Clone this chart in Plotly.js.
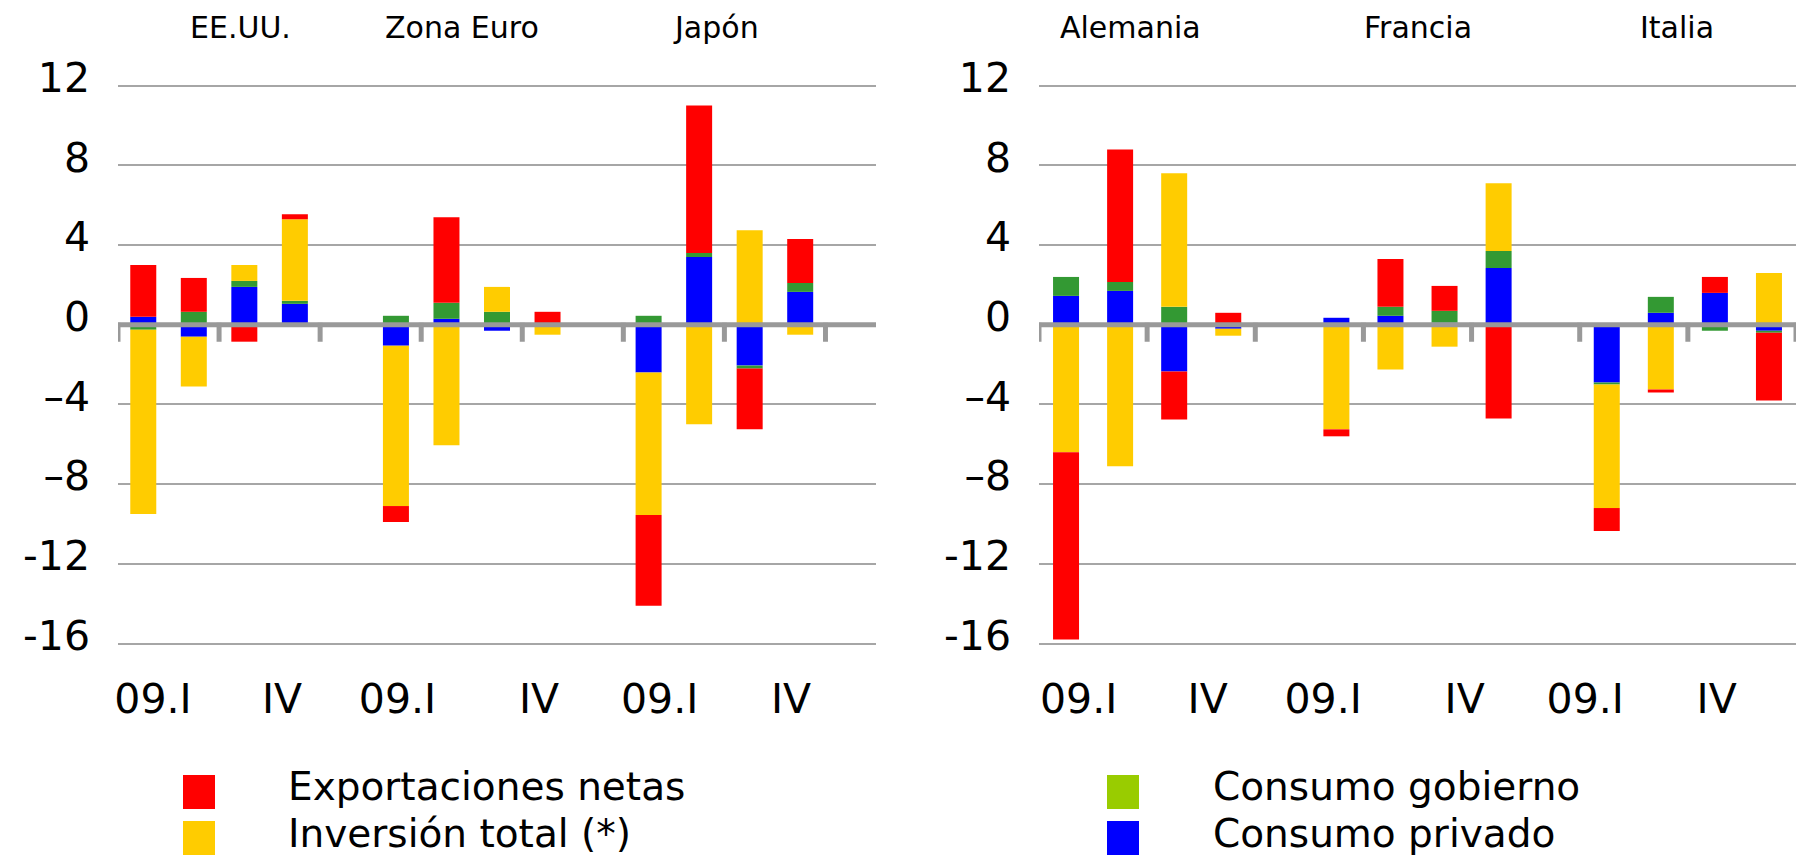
<!DOCTYPE html>
<html>
<head>
<meta charset="utf-8">
<script src="https://cdn.plot.ly/plotly-3.0.1.min.js"></script>
<style>html,body{margin:0;padding:0;background:#fff;}#chart{width:1796px;height:857px;}</style>
</head>
<body>
<div id="chart"></div>
<script>
// ---------------- DATA ----------------
const quarters = ['09.I', 'II', 'III', 'IV'];
const leftCountries = ['EE.UU.', 'Zona Euro', 'Japón'];
const rightCountries = ['Alemania', 'Francia', 'Italia'];
const yTickVals = [-16, -12, -8, -4, 0, 4, 8, 12];
const yTickText = ['-16', '-12', '–8', '–4', '0', '4', '8', '12'];

// contributions (pp), per country, quarters 09.I..IV
const consumoPrivado = {
  'EE.UU.':   [0.4, -0.6, 1.9, 1.05],
  'Zona Euro':[-1.05, 0.3, -0.3, 0],
  'Japón':    [-2.4, 3.4, -2.05, 1.65],
  'Alemania': [1.45, 1.7, -2.35, -0.2],
  'Francia':  [0.35, 0.45, 0.1, 2.85],
  'Italia':   [-2.9, 0.6, 1.6, -0.3]
};
const consumoGobierno = {
  'EE.UU.':   [-0.25, 0.65, 0.3, 0.15],
  'Zona Euro':[0.45, 0.8, 0.65, 0],
  'Japón':    [0.45, 0.2, -0.15, 0.45],
  'Alemania': [0.95, 0.45, 0.9, 0],
  'Francia':  [0, 0.45, 0.6, 0.85],
  'Italia':   [-0.1, 0.8, -0.3, -0.1]
};
const inversionTotal = {
  'EE.UU.':   [-9.25, -2.5, 0.8, 4.1],
  'Zona Euro':[-8.05, -6.05, 1.25, -0.5],
  'Japón':    [-7.15, -5.0, 4.75, -0.5],
  'Alemania': [-6.4, -7.1, 6.7, -0.35],
  'Francia':  [-5.25, -2.25, -1.1, 3.4],
  'Italia':   [-6.2, -3.25, 0, 2.6]
};
const exportacionesNetas = {
  'EE.UU.':   [2.6, 1.7, -0.85, 0.25],
  'Zona Euro':[-0.8, 4.3, 0, 0.65],
  'Japón':    [-4.55, 7.4, -3.05, 2.2],
  'Alemania': [-9.4, 6.65, -2.4, 0.6],
  'Francia':  [-0.35, 2.4, 1.25, -4.7],
  'Italia':   [-1.15, -0.15, 0.8, -3.4]
};

// ---------------- STYLE / LAYOUT ----------------
const W = 1796, H = 857;
const FONT = 'DejaVu Sans, Verdana, sans-serif';
const series = [
  {name: 'Consumo privado',     data: consumoPrivado,     color: '#0000FF', legendColor: '#0000FF'},
  {name: 'Consumo gobierno',    data: consumoGobierno,    color: '#339933', legendColor: '#99CC00'},
  {name: 'Inversión total (*)', data: inversionTotal,     color: '#FFCC00', legendColor: '#FFCC00'},
  {name: 'Exportaciones netas', data: exportacionesNetas, color: '#FF0000', legendColor: '#FF0000'}
];

// pixel anchors
const px12 = 85.7, pxM16 = 643.5;
const ppu = (pxM16 - px12) / 28;
const yMin = -16.3, yMax = 12.3;
const yTopPx = px12 - (yMax - 12) * ppu;
const yBotPx = pxM16 + (-16 - yMin) * ppu;
const yDom = [1 - yBotPx / H, 1 - yTopPx / H];

const groupStep = quarters.length + 1;
const nCatsLeft = leftCountries.length * groupStep;
const left = {x0: 118, x1: 876, range: [-0.5, nCatsLeft - 0.5]};
const right = {x0: 1039, x1: W, range: [-0.5, nCatsLeft - 1.5]};
left.cat = (left.x1 - left.x0) / (left.range[1] - left.range[0]);
right.cat = (right.x1 - right.x0) / (right.range[1] - right.range[0]);
const barPx = 26;

const labelPxLeft = [153, 282, 397.5, 539, 659.6, 791];
const labelPxRight = labelPxLeft.map(p => p + 925.6);
const toData = (panel, p) => (p - panel.x0) / panel.cat - 0.5;
const labelText = countries => countries.flatMap(() => [quarters[0], quarters[quarters.length - 1]]);

const boundaryVals = [];
for (let v = -0.5; v <= nCatsLeft - 1.5 + 1e-9; v += 2) boundaryVals.push(v);

function buildTraces(countries, xa, ya, panel) {
  return series.map(s => {
    const x = [], y = [], text = [];
    countries.forEach((c, g) => {
      s.data[c].forEach((v, q) => {
        x.push(g * groupStep + q);
        y.push(v);
        text.push(c + ' ' + quarters[q]);
      });
    });
    return {
      type: 'bar', x: x, y: y, text: text, textposition: 'none',
      name: s.name, marker: {color: s.color, line: {width: 0}},
      width: barPx / panel.cat, xaxis: xa, yaxis: ya, showlegend: false,
      hovertemplate: '%{text}: %{y}<extra>' + s.name + '</extra>'
    };
  });
}

const traces = [
  ...buildTraces(leftCountries, 'x', 'y', left),
  ...buildTraces(rightCountries, 'x2', 'y2', right)
];

const tickFont = {family: FONT, size: 41, color: '#000'};
function yAxis(anchor) {
  return {
    domain: yDom, range: [yMin, yMax], anchor: anchor,
    tickvals: yTickVals, ticktext: yTickText, ticks: '',
    showgrid: true, gridcolor: '#a6a6a6', gridwidth: 2,
    zeroline: false, showline: false,
    tickfont: tickFont, ticklabelstandoff: 27, ticklabelshift: -8, fixedrange: true
  };
}
function xLabelAxis(panel, anchor, labelPx, countries) {
  return {
    domain: [panel.x0 / W, panel.x1 / W], range: panel.range, anchor: anchor,
    tickmode: 'array', tickvals: labelPx.map(p => toData(panel, p)), ticktext: labelText(countries),
    ticks: '', showgrid: false, zeroline: false, showline: false,
    tickfont: tickFont, ticklabelstandoff: 22, fixedrange: true
  };
}

const shapes = [];
// zero line + boundary tick marks (axis decoration) for each panel
[['x', 'y'], ['x2', 'y2']].forEach(([xa, ya]) => {
  boundaryVals.forEach(v => {
    shapes.push({
      type: 'line', xref: xa, yref: ya, ysizemode: 'pixel', yanchor: 0,
      x0: v, x1: v, y0: 2, y1: -17,
      line: {color: '#999999', width: 5}, layer: 'above'
    });
  });
  shapes.push({
    type: 'line', xref: xa + ' domain', yref: ya, x0: 0, x1: 1, y0: 0, y1: 0,
    line: {color: '#999999', width: 5}, layer: 'above'
  });
});

const annotations = [];
const titlePx = {'EE.UU.': 240.7, 'Zona Euro': 462, 'Japón': 716, 'Alemania': 1130, 'Francia': 1418, 'Italia': 1677};
leftCountries.concat(rightCountries).forEach(c => {
  annotations.push({
    xref: 'paper', yref: 'paper', x: titlePx[c] / W, y: 1 - 27 / H,
    xanchor: 'center', yanchor: 'middle', showarrow: false, text: c,
    font: {family: FONT, size: 30, color: '#000'}
  });
});

// custom legend (two columns of two entries)
const legendCols = [
  {sqX: 183, textX: 287, items: ['Exportaciones netas', 'Inversión total (*)']},
  {sqX: 1107, textX: 1212, items: ['Consumo gobierno', 'Consumo privado']}
];
const legendRowY = [786, 833];
const legendSqY = [792, 838];
legendCols.forEach(col => {
  col.items.forEach((name, r) => {
    const s = series.find(t => t.name === name);
    shapes.push({
      type: 'rect', xref: 'paper', yref: 'paper', layer: 'above',
      x0: col.sqX / W, x1: (col.sqX + 32) / W,
      y0: 1 - (legendSqY[r] + 17) / H, y1: 1 - (legendSqY[r] - 17) / H,
      fillcolor: s.legendColor, line: {width: 0}
    });
    annotations.push({
      xref: 'paper', yref: 'paper', x: col.textX / W, y: 1 - legendRowY[r] / H,
      xanchor: 'left', yanchor: 'middle', showarrow: false, text: name, borderpad: 0,
      font: {family: FONT, size: 39, color: '#000'}
    });
  });
});

const layout = {
  width: W, height: H, margin: {l: 0, r: 0, t: 0, b: 0, pad: 0},
  paper_bgcolor: '#fff', plot_bgcolor: 'rgba(0,0,0,0)',
  barmode: 'relative', showlegend: false,
  font: {family: FONT, color: '#000'},
  xaxis: xLabelAxis(left, 'y', labelPxLeft, leftCountries),
  xaxis2: xLabelAxis(right, 'y2', labelPxRight, rightCountries),
  yaxis: yAxis('x'),
  yaxis2: yAxis('x2'),
  annotations: annotations,
  shapes: shapes
};

Plotly.newPlot('chart', traces, layout, {displayModeBar: false, staticPlot: true});
</script>
</body>
</html>
